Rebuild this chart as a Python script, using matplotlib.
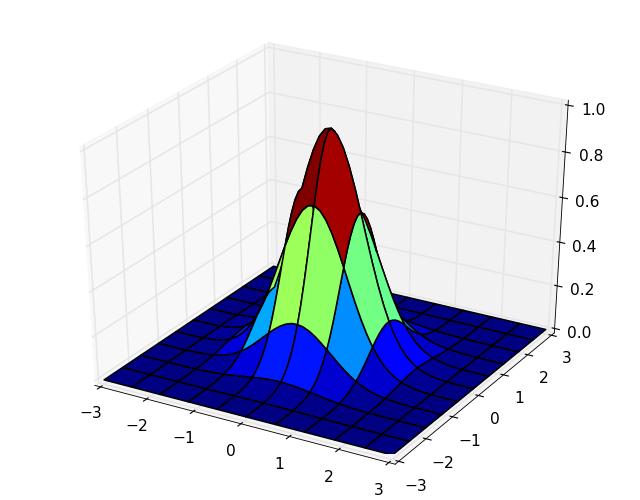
import numpy as np
import matplotlib
matplotlib.use('Agg')
import matplotlib.pyplot as plt
from mpl_toolkits.mplot3d import Axes3D

# Sample positions along each horizontal axis
x_values = [-3.000, -2.879, -2.758, -2.636, -2.515, -2.394, -2.273, -2.152, -2.030, -1.909,
            -1.788, -1.667, -1.546, -1.424, -1.303, -1.182, -1.061, -0.940, -0.818, -0.697,
            -0.576, -0.455, -0.334, -0.212, -0.091, 0.030, 0.151, 0.273, 0.394, 0.515,
            0.636, 0.758, 0.879, 1.000, 1.121, 1.242, 1.364, 1.485, 1.606, 1.727,
            1.848, 1.970, 2.091, 2.212, 2.333, 2.455, 2.576, 2.697, 2.818, 3.000]
y_values = list(x_values)

# Height profile of the bump along each axis
x_profile = [0.000, 0.000, 0.001, 0.001, 0.002, 0.003, 0.006, 0.010, 0.016, 0.026,
             0.041, 0.062, 0.092, 0.132, 0.183, 0.247, 0.324, 0.413, 0.512, 0.615,
             0.718, 0.813, 0.894, 0.956, 0.992, 0.999, 0.977, 0.928, 0.856, 0.767,
             0.667, 0.563, 0.462, 0.368, 0.285, 0.214, 0.156, 0.110, 0.076, 0.051,
             0.033, 0.021, 0.013, 0.007, 0.004, 0.002, 0.001, 0.001, 0.000, 0.000]
y_profile = list(x_profile)

x_ticks = [-3, -2, -1, 0, 1, 2, 3]
y_ticks = [-3, -2, -1, 0, 1, 2, 3]
z_ticks = [0.0, 0.2, 0.4, 0.6, 0.8, 1.0]

plt.style.use('classic')

X, Y = np.meshgrid(x_values, y_values)
Z = np.outer(y_profile, x_profile)

fig = plt.figure(figsize=(8, 6.25), dpi=80)
ax = fig.add_subplot(111, projection='3d')
# the old 3d axes filled the whole subplot box instead of staying square
ax.apply_aspect = lambda position=None: None
ax.set_position([0.0965, 0.092, 0.813, 0.816])
ax.set_box_aspect((1, 1, 1), zoom=1.12)
ax.plot_surface(X, Y, Z, rstride=5, cstride=5, cmap='jet', linewidth=1.4, edgecolor='k')

ax.set_xlim(-3, 3, view_margin=1 / 48)
ax.set_ylim(-3, 3, view_margin=1 / 48)
ax.set_zlim(0, 1, view_margin=1 / 48)
ax.set_xticks(x_ticks)
ax.set_yticks(y_ticks)
ax.set_zticks(z_ticks)
ax.tick_params(labelsize=14)
for axis in (ax.xaxis, ax.yaxis, ax.zaxis):
    axis._axinfo['grid']['linewidth'] = 1.4

fig.savefig('out.png', dpi=80)
